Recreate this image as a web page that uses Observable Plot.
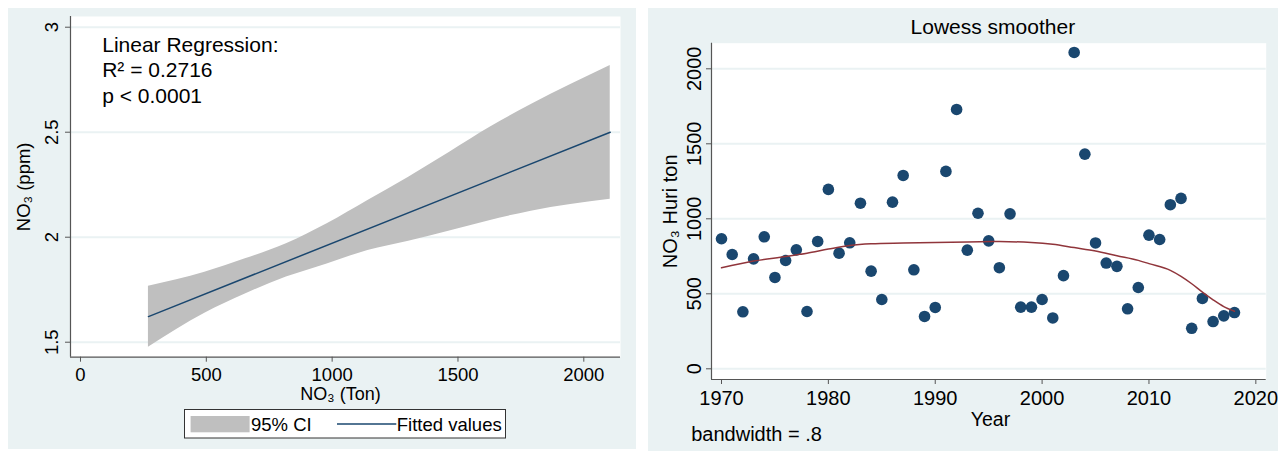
<!DOCTYPE html>
<html><head><meta charset="utf-8">
<script src="https://cdn.jsdelivr.net/npm/d3@7"></script>
<script src="https://cdn.jsdelivr.net/npm/@observablehq/plot@0.6"></script>
<style>
body{margin:0;background:#fff;font-family:"Liberation Sans",Arial,sans-serif;}
#wrap{position:relative;width:1278px;height:451px;overflow:hidden;}
.panel{position:absolute;background:#eaf2f3;}
#left{left:8px;top:8px;width:628px;height:441px;}
#right{left:648px;top:8px;width:630px;height:443px;}
.panel > svg{position:absolute;left:0;top:0;}
#legend{position:absolute;left:175.7px;top:401px;}
</style></head>
<body>
<div id="wrap">
  <div class="panel" id="left">
    <svg id="legend" width="323" height="30" style="font-family:'Liberation Sans',Arial,sans-serif;font-size:18.5px;">
      <rect x="0.5" y="0.5" width="321" height="28.5" fill="#fff" stroke="#333" stroke-width="1"></rect>
      <rect x="6.6" y="7" width="59" height="16.3" fill="#bfbfbf"></rect>
      <text x="67" y="21.7" fill="#000">95% CI</text>
      <line x1="153" x2="212.3" y1="15" y2="15" stroke="#1a476f" stroke-width="1.5"></line>
      <text x="212.8" y="21.7" fill="#000">Fitted values</text>
    </svg>
  </div>
  <div class="panel" id="right"></div>
</div>
<script>
// ---- Left panel: linear regression ----
const fitX = [270, 2105];
const fitY = [1.622, 2.5];
const ciX  = [270, 494, 655, 818, 980, 1142, 1304, 1467, 1629, 1791, 2105];
const ciHi = [1.767, 1.833, 1.897, 1.969, 2.064, 2.175, 2.286, 2.405, 2.525, 2.632, 2.818];
const ciLo = [1.476, 1.638, 1.730, 1.810, 1.873, 1.937, 1.981, 2.029, 2.080, 2.124, 2.181];
const leftXTicks = [0, 500, 1000, 1500, 2000];
const leftYTicks = [1.5, 2, 2.5, 3];
const annotation = ["Linear Regression:", "R² = 0.2716", "p < 0.0001"];
const leftXDomain = [-39.7, 2145.8];
const leftYDomain = [1.4286, 3.051];

// ---- Right panel: lowess smoother ----
const years = [1970,1971,1972,1973,1974,1975,1976,1977,1978,1979,
               1980,1981,1982,1983,1984,1985,1986,1987,1988,1989,
               1990,1991,1992,1993,1994,1995,1996,1997,1998,1999,
               2000,2001,2002,2003,2004,2005,2006,2007,2008,2009,
               2010,2011,2012,2013,2014,2015,2016,2017,2018];
const huri  = [867,762,380,733,880,609,722,793,382,849,
               1196,771,840,1104,651,462,1111,1289,660,349,
               409,1316,1729,791,1037,853,674,1033,411,411,
               462,339,621,2109,1431,839,705,683,400,542,
               891,862,1094,1136,270,469,315,353,375];
const lowessYears = [1970,1973,1976,1978,1980,1982,1984,1987,1990,1993,1996,1999,2001,2003,2005,2007,2009,2010,2012,2013,2014,2015,2016,2017,2018];
const lowessVals  = [673,718,749,771,798,822,833,838,842,846,848,842,830,808,786,754,723,701,656,616,567,511,460,415,384];
const rightXTicks = [1970, 1980, 1990, 2000, 2010, 2020];
const rightYTicks = [0, 500, 1000, 1500, 2000];
const rightXDomain = [1969.064, 2020.97];
const rightYDomain = [-71.3, 2170.7];

const FONT = "Liberation Sans, Arial, sans-serif";
const BG = "#eaf2f3";
const AXIS = "#555";

const ci = ciX.map((x, i) => ({x, lo: ciLo[i], hi: ciHi[i]}));
const fit = fitX.map((x, i) => ({x, y: fitY[i]}));

const left = Plot.plot({
  width: 628, height: 441,
  marginLeft: 62, marginRight: 16, marginTop: 8, marginBottom: 92.3,
  style: {background: "transparent", fontFamily: FONT, fontSize: "18.5px", color: "#000", overflow: "visible"},
  x: {domain: leftXDomain},
  y: {domain: leftYDomain},
  marks: [
    Plot.frame({fill: "white", stroke: "none"}),
    Plot.ruleY(leftYTicks, {stroke: BG, strokeWidth: 2}),
    Plot.areaY(ci, {x: "x", y1: "lo", y2: "hi", fill: "#bfbfbf", curve: "monotone-x"}),
    Plot.line(fit, {x: "x", y: "y", stroke: "#1a476f", strokeWidth: 1.5}),
    Plot.ruleX([leftXDomain[0]], {stroke: AXIS, strokeWidth: 1.2}),
    Plot.ruleY([leftYDomain[0]], {stroke: AXIS, strokeWidth: 1.2}),
    Plot.axisX({ticks: leftXTicks, tickSize: 5, tickPadding: 6, tickFormat: d => String(d), stroke: AXIS, label: null, fontSize: 18.5}),
    Plot.axisY({ticks: leftYTicks, tickSize: 5, tickFormat: () => "", stroke: AXIS, label: null}),
    Plot.text(leftYTicks, {y: d => d, frameAnchor: "left", rotate: -90, textAnchor: "middle", lineAnchor: "bottom", dx: -12.3, text: d => String(d), fontSize: 18.5}),
    Plot.text(["NO₃ (ppm)"], {frameAnchor: "left", rotate: -90, textAnchor: "middle", lineAnchor: "top", dx: -53.3, fontSize: 18.5}),
    Plot.text(["NO₃ (Ton)"], {frameAnchor: "bottom", lineAnchor: "bottom", dy: 42.5, dx: -5, fontSize: 18}),
    Plot.text([annotation[0]], {frameAnchor: "top-left", textAnchor: "start", lineAnchor: "bottom", dx: 31.7, dy: 35, fontSize: 21}),
    Plot.text([annotation[1]], {frameAnchor: "top-left", textAnchor: "start", lineAnchor: "bottom", dx: 31.7, dy: 60.7, fontSize: 21}),
    Plot.text([annotation[2]], {frameAnchor: "top-left", textAnchor: "start", lineAnchor: "bottom", dx: 31.7, dy: 86.5, fontSize: 21})
  ]
});
document.getElementById("left").prepend(left);

const pts = years.map((year, i) => ({year, v: huri[i]}));
const low = lowessYears.map((year, i) => ({year, v: lowessVals[i]}));

const right = Plot.plot({
  width: 630, height: 443,
  marginLeft: 63, marginRight: 12.3, marginTop: 34.7, marginBottom: 72,
  style: {background: "transparent", fontFamily: FONT, fontSize: "20px", color: "#000", overflow: "visible"},
  x: {domain: rightXDomain},
  y: {domain: rightYDomain},
  marks: [
    Plot.frame({fill: "white", stroke: "none"}),
    Plot.ruleY(rightYTicks, {stroke: BG, strokeWidth: 2}),
    Plot.dot(pts, {x: "year", y: "v", r: 5.8, fill: "#1a476f", stroke: "none"}),
    Plot.line(low, {x: "year", y: "v", stroke: "#90353b", strokeWidth: 1.5, curve: "monotone-x"}),
    Plot.ruleX([rightXDomain[0]], {stroke: AXIS, strokeWidth: 1.2}),
    Plot.ruleY([rightYDomain[0]], {stroke: AXIS, strokeWidth: 1.2}),
    Plot.axisX({ticks: rightXTicks, tickSize: 5, tickPadding: 6, tickFormat: d => String(d), stroke: AXIS, label: null, fontSize: 20}),
    Plot.axisY({ticks: rightYTicks, tickSize: 5, tickFormat: () => "", stroke: AXIS, label: null}),
    Plot.text(rightYTicks, {y: d => d, frameAnchor: "left", rotate: -90, textAnchor: "middle", lineAnchor: "bottom", dx: -10.3, text: d => String(d), fontSize: 20}),
    Plot.text(["NO₃ Huri ton"], {frameAnchor: "left", rotate: -90, textAnchor: "middle", lineAnchor: "top", dx: -48.6, fontSize: 20}),
    Plot.text(["Year"], {frameAnchor: "bottom", lineAnchor: "bottom", dy: 46, dx: 1.6, fontSize: 19.5}),
    Plot.text(["Lowess smoother"], {frameAnchor: "top", lineAnchor: "bottom", dy: -9.4, dx: 4, fontSize: 21}),
    Plot.text(["bandwidth = .8"], {frameAnchor: "bottom-left", textAnchor: "start", lineAnchor: "bottom", dx: -20.3, dy: 61, fontSize: 20})
  ]
});
document.getElementById("right").appendChild(right);
</script>
</body></html>
